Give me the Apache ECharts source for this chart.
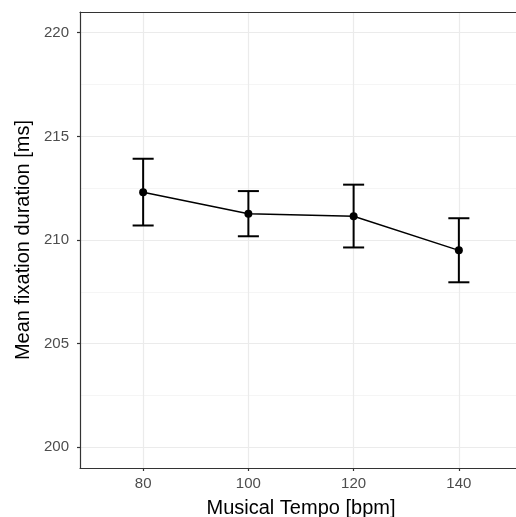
<!DOCTYPE html>
<html><head><meta charset="utf-8">
<script src="https://cdn.jsdelivr.net/npm/echarts@6/dist/echarts.min.js"></script>
<style>html,body{margin:0;padding:0;background:#fff}#c{width:516px;height:517px}</style>
</head><body><div id="c"></div>
<script>
const tempos = [80, 100, 120, 140];
const means = [212.3, 211.27, 211.15, 209.5];
const upper = [213.92, 212.36, 212.67, 211.05];
const lower = [210.7, 210.18, 209.64, 207.96];
const yTicks = [200, 205, 210, 215, 220];
const yMinor = [202.5, 207.5, 212.5, 217.5];

const font = 'Liberation Sans, Arial, sans-serif';
const chart = echarts.init(document.getElementById('c'));
const errData = tempos.map((t, i) => [t, lower[i], upper[i]]);
chart.setOption({
  animation: false,
  backgroundColor: '#fff',
  grid: {left: 80, top: 12, right: -6, bottom: 49, outerBoundsMode: 'none', containLabel: false, show: false},
  xAxis: [{
    type: 'value', min: 68, max: 152,
    name: 'Musical Tempo [bpm]', nameLocation: 'middle', nameGap: 30,
    nameTextStyle: {color: '#000', fontSize: 20, fontFamily: font},
    axisLine: {show: true, onZero: false, lineStyle: {color: '#333', width: 1.2}},
    axisTick: {show: true, length: 3, customValues: tempos, lineStyle: {color: '#333', width: 1.2}},
    axisLabel: {customValues: tempos, color: '#4d4d4d', fontSize: 15, fontFamily: font, margin: 8},
    splitLine: {show: true, lineStyle: {color: '#ebebeb', width: 1.2}}
  }, {
    type: 'value', min: 68, max: 152, position: 'top',
    axisLine: {show: true, onZero: false, lineStyle: {color: '#333', width: 1.2}},
    axisTick: {show: false}, axisLabel: {show: false}, splitLine: {show: false}
  }],
  yAxis: [{
    type: 'value', min: 199, max: 221,
    name: 'Mean fixation duration [ms]', nameLocation: 'middle', nameGap: 46,
    nameTextStyle: {color: '#000', fontSize: 20, fontFamily: font},
    axisLine: {show: true, onZero: false, lineStyle: {color: '#333', width: 1.2}},
    axisTick: {show: true, length: 3, customValues: yTicks, lineStyle: {color: '#333', width: 1.2}},
    axisLabel: {customValues: yTicks, color: '#4d4d4d', fontSize: 15, fontFamily: font, margin: 11},
    splitLine: {show: true, lineStyle: {color: '#ebebeb', width: 1.2}}
  }, {
    type: 'value', min: 199, max: 221, position: 'left',
    axisLine: {show: false}, axisLabel: {show: false},
    axisTick: {show: false, customValues: yMinor},
    splitLine: {show: true, lineStyle: {color: '#f2f2f2', width: 0.8}}
  }],
  series: [{
    type: 'custom', z: 3,
    data: errData,
    renderItem: function (params, api) {
      const x = api.value(0);
      const lo = api.coord([x, api.value(1)]);
      const hi = api.coord([x, api.value(2)]);
      const l = api.coord([x - 2, api.value(1)]);
      const r = api.coord([x + 2, api.value(1)]);
      const hw = (r[0] - l[0]) / 2;
      const st = {stroke: '#000', lineWidth: 2};
      return {type: 'group', children: [
        {type: 'line', shape: {x1: lo[0], y1: lo[1], x2: hi[0], y2: hi[1]}, style: st},
        {type: 'line', shape: {x1: lo[0] - hw, y1: lo[1], x2: lo[0] + hw, y2: lo[1]}, style: st},
        {type: 'line', shape: {x1: hi[0] - hw, y1: hi[1], x2: hi[0] + hw, y2: hi[1]}, style: st}
      ]};
    }
  }, {
    type: 'line', z: 4,
    data: tempos.map((t, i) => [t, means[i]]),
    symbol: 'circle', symbolSize: 8,
    lineStyle: {color: '#000', width: 1.5},
    itemStyle: {color: '#000'}
  }]
});
</script></body></html>
